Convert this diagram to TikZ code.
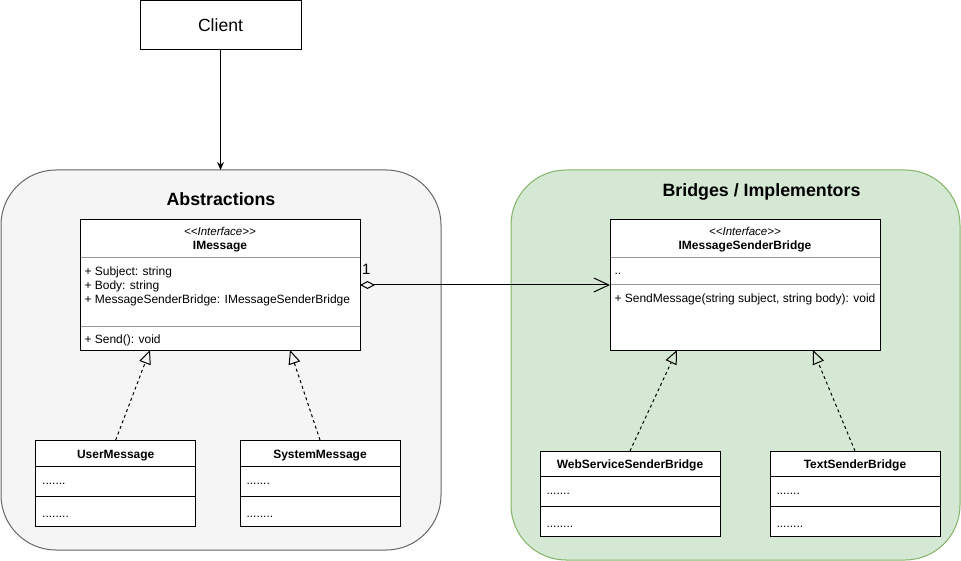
\documentclass[tikz,border=0pt]{standalone}
\usepackage{fontspec}
\setmainfont{Liberation Sans}
\usetikzlibrary{positioning,arrows.meta}

\definecolor{absfill}{HTML}{F5F5F5}
\definecolor{absline}{HTML}{666666}
\definecolor{brgfill}{HTML}{D5E8D4}
\definecolor{brgline}{HTML}{82B366}

\newcommand{\umlfont}{\fontsize{12}{14}\selectfont}
\newcommand{\stereofont}{\fontsize{11.5}{13}\selectfont\itshape}
\newcommand{\titlefont}{\fontsize{17.8}{21}\selectfont\bfseries}
\newcommand{\clientfont}{\fontsize{17.6}{21}\selectfont}
\newcommand{\ifacetag}{<{}<Interface>{}>}

\tikzset{
  box/.style={draw, fill=white, inner sep=0pt, outer sep=0pt},
  ipart/.style={box, draw=black!40, minimum width=#1},
  cpart/.style={box, minimum width=#1},
  cname/.style={font=\umlfont\bfseries, text height=10pt, text depth=0pt},
  stereo/.style={font=\stereofont, anchor=base, inner sep=0pt},
  iname/.style={font=\umlfont\bfseries, anchor=base, inner sep=0pt},
  member/.style={anchor=base west, inner sep=0pt},
  group/.style={rounded corners=55pt, inner sep=0pt, outer sep=0pt},
  realize/.style={dash pattern=on 3pt off 3pt, -{Triangle[open,length=14pt,width=12pt]}},
  aggr/.style={{Diamond[open,length=15pt,width=8pt]}-{Straight Barb[length=15pt,width=14pt]}},
}

\begin{document}
\begin{tikzpicture}[x=1pt,y=-1pt,line width=1pt,font=\umlfont]
  \useasboundingbox (0,0) rectangle (961,561);

  % groups
  \node[group, draw=absline, fill=absfill, minimum width=440, minimum height=380] (abs) at (221,360) {};
  \node[group, draw=brgline, fill=brgfill, minimum width=449, minimum height=390] (brg) at (735.5,365) {};
  \node[font=\titlefont, anchor=base] (abs-title) at (221,206) {Abstractions};
  \node[font=\titlefont, anchor=base] (brg-title) at (761.5,197) {Bridges / Implementors};

  % client
  \node[box, minimum width=161, minimum height=49, font=\clientfont] (client) at (220.5,25.5) {Client};

  % IMessage
  \node[ipart=280, minimum height=38] (imsg) at (220,239) {};
  \node[ipart=280, minimum height=68, below=0pt of imsg] (imsg-a) {};
  \node[ipart=280, minimum height=24, below=0pt of imsg-a] (imsg-o) {};
  \draw (imsg.north west) rectangle (imsg-o.south east);
  \node[stereo] at ([shift={(0,16)}]imsg.north) {\ifacetag};
  \node[iname] at ([shift={(0,29.5)}]imsg.north) {IMessage};
  \node[anchor=north west, align=left, inner sep=0pt] at ([shift={(4,8.5)}]imsg-a.north west)
    {+ Subject: string\\+ Body: string\\+ MessageSenderBridge: IMessageSenderBridge};
  \node[member] at ([shift={(4,17.5)}]imsg-o.north west) {+ Send(): void};

  % IMessageSenderBridge
  \node[ipart=270, minimum height=38] (brg-h) at (745,239) {};
  \node[ipart=270, minimum height=27, below=0pt of brg-h] (brg-a) {};
  \node[ipart=270, minimum height=65, below=0pt of brg-a] (brg-o) {};
  \draw (brg-h.north west) rectangle (brg-o.south east);
  \node[stereo] at ([shift={(0,15.5)}]brg-h.north) {\ifacetag};
  \node[iname] at ([shift={(0,29.5)}]brg-h.north) {IMessageSenderBridge};
  \node[member] at ([shift={(4,17)}]brg-a.north west) {..};
  \node[member] at ([shift={(4,17.5)}]brg-o.north west) {+ SendMessage(string subject, string body): void};

  % concrete classes
  \node[cpart=160, minimum height=26, cname] (user) at (115.7,453) {UserMessage};
  \node[cpart=160, minimum height=30, below=0pt of user] (user-a) {};
  \node[cpart=160, minimum height=30, below=0pt of user-a] (user-o) {};
  \node[member] at ([shift={(6,18)}]user-a.north west) {.......};
  \node[member] at ([shift={(6,21)}]user-o.north west) {........};

  \node[cpart=160, minimum height=26, cname] (sys) at (320,453) {SystemMessage};
  \node[cpart=160, minimum height=30, below=0pt of sys] (sys-a) {};
  \node[cpart=160, minimum height=30, below=0pt of sys-a] (sys-o) {};
  \node[member] at ([shift={(6,18)}]sys-a.north west) {.......};
  \node[member] at ([shift={(6,21)}]sys-o.north west) {........};

  \node[cpart=180, minimum height=25, cname] (web) at (630,463.5) {WebServiceSenderBridge};
  \node[cpart=180, minimum height=30, below=0pt of web] (web-a) {};
  \node[cpart=180, minimum height=30, below=0pt of web-a] (web-o) {};
  \node[member] at ([shift={(6,18)}]web-a.north west) {.......};
  \node[member] at ([shift={(6,21)}]web-o.north west) {........};

  \node[cpart=170, minimum height=25, cname] (text) at (855,463.5) {TextSenderBridge};
  \node[cpart=170, minimum height=30, below=0pt of text] (text-a) {};
  \node[cpart=170, minimum height=30, below=0pt of text-a] (text-o) {};
  \node[member] at ([shift={(6,18)}]text-a.north west) {.......};
  \node[member] at ([shift={(6,21)}]text-o.north west) {........};

  % connectors
  \draw[-{Stealth[length=8pt,width=7pt]}] (client.south) -- (client.south |- abs.north);
  \draw[aggr] (imsg-a.east |- brg-a.south) -- (brg-a.south west)
    node[pos=0, anchor=base west, xshift=1.5pt, yshift=10.5pt, inner sep=0pt, font=\fontsize{15}{18}\selectfont] {1};
  \draw[realize] (user.north) -- ([xshift=-70pt]imsg-o.south);
  \draw[realize] (sys.north) -- ([xshift=70pt]imsg-o.south);
  \draw[realize] (web.north) -- ([xshift=-68pt]brg-o.south);
  \draw[realize] (text.north) -- ([xshift=68pt]brg-o.south);
\end{tikzpicture}
\end{document}
